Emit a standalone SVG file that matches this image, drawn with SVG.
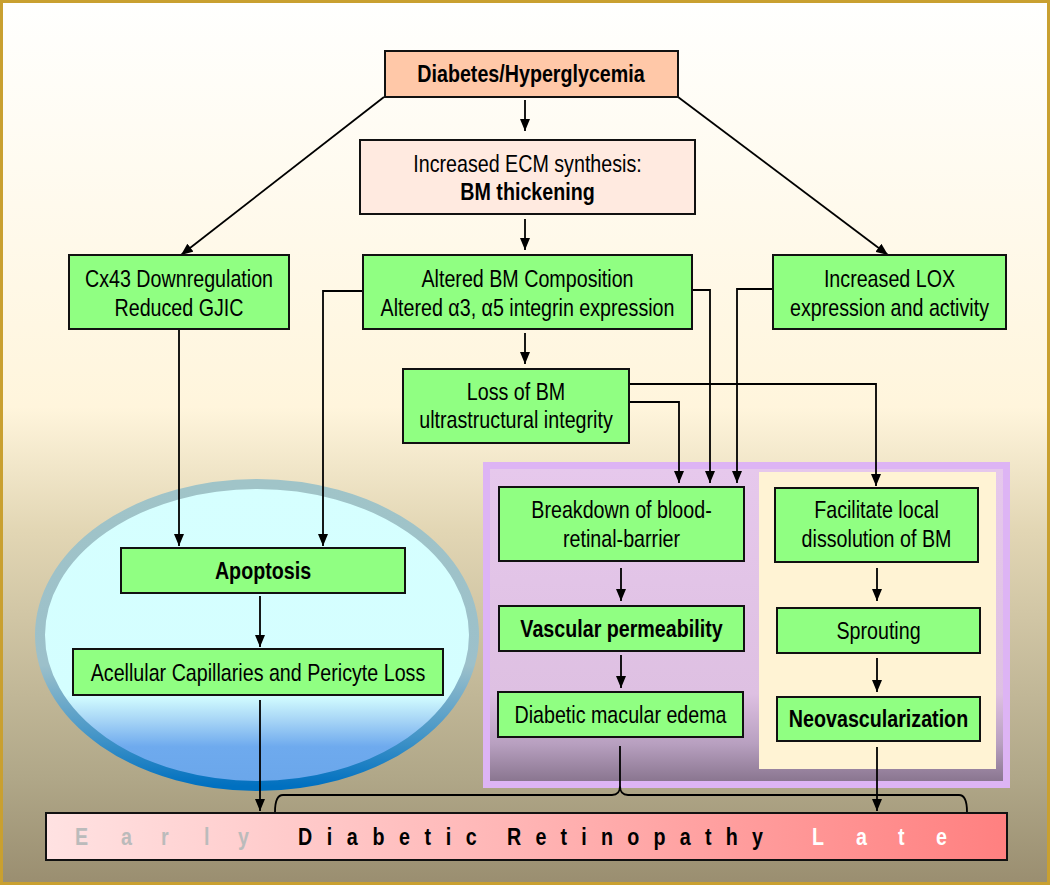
<svg xmlns="http://www.w3.org/2000/svg" width="1050" height="885" viewBox="0 0 1050 885">
<defs>
<linearGradient id="bg" x1="0" y1="0" x2="0" y2="1">
<stop offset="0" stop-color="#FFFFFE"/>
<stop offset="0.46" stop-color="#FFF5DC"/>
<stop offset="0.6" stop-color="#E2D6B4"/>
<stop offset="0.88" stop-color="#B0A788"/>
<stop offset="1" stop-color="#9A8E70"/>
</linearGradient>
<linearGradient id="ellFill" x1="0" y1="0" x2="0" y2="1">
<stop offset="0" stop-color="#D6FFFF"/>
<stop offset="0.7" stop-color="#D4FEFF"/>
<stop offset="0.78" stop-color="#A8D6F6"/>
<stop offset="0.87" stop-color="#6EAAEE"/>
<stop offset="1" stop-color="#6AA6EA"/>
</linearGradient>
<linearGradient id="ellStroke" x1="0" y1="0" x2="0" y2="1">
<stop offset="0" stop-color="#A0C4C8"/>
<stop offset="0.6" stop-color="#9CC0CA"/>
<stop offset="0.82" stop-color="#4A98C8"/>
<stop offset="1" stop-color="#0070C0"/>
</linearGradient>
<linearGradient id="purple" x1="0" y1="0" x2="0" y2="1">
<stop offset="0" stop-color="#E6C8EC"/>
<stop offset="0.72" stop-color="#DEC0E2"/>
<stop offset="0.88" stop-color="#B8A0C0"/>
<stop offset="1" stop-color="#8A7690"/>
</linearGradient>
<linearGradient id="bar" x1="0" y1="0" x2="1" y2="0">
<stop offset="0" stop-color="#FFE2E2"/>
<stop offset="0.5" stop-color="#FFB4B4"/>
<stop offset="1" stop-color="#FF8080"/>
</linearGradient>
<marker id="ah" markerUnits="userSpaceOnUse" markerWidth="12" markerHeight="10" refX="12" refY="5" orient="auto">
<path d="M0,0 L12,5 L0,10 z" fill="#000"/>
</marker>
<style>
.box{fill:#90FF82;stroke:#111;stroke-width:2}
.t{font-family:"Liberation Sans",Arial,sans-serif;font-size:24px;fill:#000;text-anchor:middle}
.b{font-weight:bold}
.c{fill:none;stroke:#000;stroke-width:1.8}
.a{marker-end:url(#ah)}
.bt{font-family:"Liberation Sans",Arial,sans-serif;font-size:24px;font-weight:bold}
</style>
</defs>
<rect x="1.5" y="1.5" width="1047" height="882" fill="url(#bg)" stroke="#C9A030" stroke-width="3"/>
<g id="ellipse-region">
<ellipse cx="257" cy="635" rx="217" ry="151" fill="url(#ellFill)" stroke="url(#ellStroke)" stroke-width="10"/>
</g>
<g id="purple-region">
<rect x="483" y="462" width="527" height="326" fill="#DDB4F4"/>
<rect x="490" y="469" width="513" height="312" fill="url(#purple)"/>
<rect x="759" y="472" width="237" height="297" fill="#FFF3D4"/>
</g>
<g id="connectors">
<path class="c a" d="M525,100 L525,131"/>
<path class="c a" d="M384,97 L181,255"/>
<path class="c a" d="M678,97 L888,255"/>
<path class="c a" d="M525,219 L525,250"/>
<path class="c a" d="M525,333 L525,364"/>
<path class="c a" d="M179,329 L179,546"/>
<path class="c a" d="M363,291 L323,291 L323,546"/>
<path class="c a" d="M629,402 L679,402 L679,483"/>
<path class="c a" d="M692,290 L710,290 L710,483"/>
<path class="c a" d="M773,289 L737,289 L737,483"/>
<path class="c a" d="M629,384 L876,384 L876,486"/>
<path class="c a" d="M621,568 L621,601"/>
<path class="c a" d="M621,655 L621,688"/>
<path class="c" d="M620,746 L620,786"/>
<path class="c a" d="M877,568 L877,601"/>
<path class="c a" d="M877,658 L877,692"/>
<path class="c a" d="M877,747 L877,811"/>
<path class="c a" d="M260,596 L260,647"/>
<path class="c a" d="M260,700 L260,811"/>
<path class="c" d="M275,812 Q275,795 283,795 L612,795 Q620,795 620,786 Q620,795 628,795 L959,795 Q967,795 967,812"/>
</g>
<g id="n-diabetes">
<rect x="385" y="51" width="293" height="46" fill="#FFC8A8" stroke="#111" stroke-width="2"/>
<text class="t b" transform="translate(531,82) scale(0.82,1)">Diabetes/Hyperglycemia</text>
</g>
<g id="n-ecm">
<rect x="360" y="140" width="335" height="74" fill="#FFEAE0" stroke="#111" stroke-width="2"/>
<text class="t" transform="translate(527.5,172) scale(0.82,1)">Increased ECM synthesis:</text>
<text class="t b" transform="translate(527.5,200) scale(0.82,1)">BM thickening</text>
</g>
<g id="n-cx43">
<rect class="box" x="69" y="255" width="220" height="74"/>
<text class="t" transform="translate(179,287) scale(0.82,1)">Cx43 Downregulation</text>
<text class="t" transform="translate(179,316) scale(0.82,1)">Reduced GJIC</text>
</g>
<g id="n-altered">
<rect class="box" x="363" y="255" width="329" height="74"/>
<text class="t" transform="translate(527.5,287) scale(0.82,1)">Altered BM Composition</text>
<text class="t" transform="translate(527.5,316) scale(0.82,1)">Altered α3, α5 integrin expression</text>
</g>
<g id="n-lox">
<rect class="box" x="773" y="255" width="233" height="74"/>
<text class="t" transform="translate(889.5,287) scale(0.82,1)">Increased LOX</text>
<text class="t" transform="translate(889.5,316) scale(0.82,1)">expression and activity</text>
</g>
<g id="n-loss">
<rect class="box" x="403" y="369" width="226" height="74"/>
<text class="t" transform="translate(516,400) scale(0.82,1)">Loss of BM</text>
<text class="t" transform="translate(516,428) scale(0.82,1)">ultrastructural integrity</text>
</g>
<g id="n-apoptosis">
<rect class="box" x="121" y="548" width="284" height="45"/>
<text class="t b" transform="translate(263,579) scale(0.82,1)">Apoptosis</text>
</g>
<g id="n-acellular">
<rect class="box" x="73" y="649" width="370" height="46"/>
<text class="t" transform="translate(258,681) scale(0.82,1)">Acellular Capillaries and Pericyte Loss</text>
</g>
<g id="n-breakdown">
<rect class="box" x="499" y="487" width="245" height="74"/>
<text class="t" transform="translate(621.5,518) scale(0.82,1)">Breakdown of blood-</text>
<text class="t" transform="translate(621.5,547) scale(0.82,1)">retinal-barrier</text>
</g>
<g id="n-vascular">
<rect class="box" x="499" y="606" width="245" height="45"/>
<text class="t b" transform="translate(621.5,637) scale(0.82,1)">Vascular permeability</text>
</g>
<g id="n-dme">
<rect class="box" x="498" y="692" width="245" height="45"/>
<text class="t" transform="translate(620.5,723) scale(0.82,1)">Diabetic macular edema</text>
</g>
<g id="n-facilitate">
<rect class="box" x="775" y="488" width="203" height="74"/>
<text class="t" transform="translate(876.5,518) scale(0.82,1)">Facilitate local</text>
<text class="t" transform="translate(876.5,547) scale(0.82,1)">dissolution of BM</text>
</g>
<g id="n-sprouting">
<rect class="box" x="777" y="608" width="203" height="45"/>
<text class="t" transform="translate(878.5,639) scale(0.82,1)">Sprouting</text>
</g>
<g id="n-neo">
<rect class="box" x="777" y="697" width="203" height="44"/>
<text class="t b" transform="translate(878.5,727) scale(0.82,1)">Neovascularization</text>
</g>
<g id="n-bar">
<rect x="46" y="813" width="961" height="47" fill="url(#bar)" stroke="#111" stroke-width="2"/>
<g transform="scale(0.82,1)">
<text class="bt" fill="#BBBBBB" x="91.5 147.6 196.3 248.8 290.2" y="845">Early</text>
<text class="bt" fill="#000" x="363.4" y="845" textLength="218" lengthAdjust="spacing">Diabetic</text>
<text class="bt" fill="#000" x="618.3" y="845" textLength="312" lengthAdjust="spacing">Retinopathy</text>
<text class="bt" fill="#FFFFFF" x="990.2 1043.9 1095.1 1141.5" y="845">Late</text>
</g>
</g>
</svg>
